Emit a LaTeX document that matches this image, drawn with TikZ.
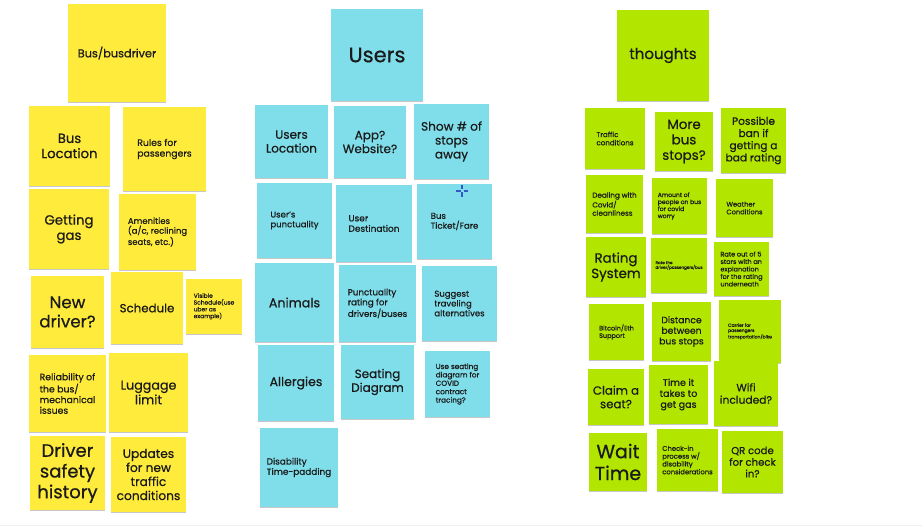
\documentclass[tikz,border=0pt]{standalone}
\usepackage{fontspec}
\setmainfont{Poppins}[FakeBold=0.6]
\usepackage{tikz}
\usetikzlibrary{
    calc,
    shadows
}
\definecolor{notey}{HTML}{FFEB3B}
\definecolor{notec}{HTML}{7FDEEA}
\definecolor{noteg}{HTML}{B2E600}
\definecolor{ink}{HTML}{1A1A1A}
\definecolor{cursorblue}{HTML}{3458C8}
\tikzset{
    fs/.code={\pgfmathsetmacro\stickybls{1.15*#1}\tikzset{font=\fontsize{#1}{\stickybls}\selectfont}},
    wh/.style 2 args={minimum width=#1pt, minimum height=#2pt},
    sticky/.style={inner sep=0pt, align=center, text=ink,
        drop shadow={shadow xshift=0pt, shadow yshift=-1.3pt, opacity=0.22, fill=black}},
    ysticky/.style={sticky, fill=notey},
    csticky/.style={sticky, fill=notec},
    gsticky/.style={sticky, fill=noteg},
}

\begin{document}
\begin{tikzpicture}[x=1pt, y=-1pt]
        \useasboundingbox (0,0) rectangle (922,526);
        \draw[black!6] (0,525) -- (922,525);

        % Bus/busdriver column
        \node[ysticky, wh={98}{98}, fs=11.3] (busdrv) at (117,53) {Bus/busdriver};
        \node[ysticky, wh={81}{80}, fs=13.2] (busloc) at (69.5,146) {Bus\\Location};
        \node[ysticky, wh={83}{84}, fs=9.3, align=left] (rules) at (164.5,149) {Rules for\\passengers};
        \node[ysticky, wh={80}{80}, fs=13.3] (gas) at (69,229) {Getting\\gas};
        \node[ysticky, wh={77}{76}, fs=8.5, align=left] (amen) at (157.5,232) {Amenities\\(a/c, reclining\\seats, etc.)};
        \node[ysticky, wh={73}{72}, fs=16.7] (newdrv) at (67.5,312) {New\\driver?};
        \node[ysticky, wh={72}{72}, fs=11.8] (sched) at (147,308) {Schedule};
        \node[ysticky, wh={56}{55}, fs=5.9, align=left] (vissched) at (214,306.5) {Visible\\Schedule(use\\uber as\\example)};
        \node[ysticky, wh={77}{77}, fs=9.3, align=left] (reliab) at (67.5,393.5) {Reliability of\\the bus/\\mechanical\\issues};
        \node[ysticky, wh={79}{79}, fs=12.7] (lugg) at (148.5,392.5) {Luggage\\limit};
        \node[ysticky, wh={75}{74}, fs=18] (safety) at (67.5,473) {Driver\\safety\\history};
        \node[ysticky, wh={75}{75}, fs=12.2] (updates) at (148.5,474.5) {Updates\\for new\\traffic\\conditions};

        % Users column
        \node[csticky, wh={92}{92}, fs=21] (users) at (377,55) {Users};
        \node[csticky, wh={73}{73}, fs=12] (usrloc) at (291.5,141.5) {Users\\Location};
        \node[csticky, wh={72}{72}, fs=12] (app) at (370,142) {App?\\Website?};
        \node[csticky, wh={75}{75}, fs=12.1] (stops) at (451.5,141.5) {Show \# of\\stops\\away};
        \node[csticky, wh={75}{75}, fs=8.5, align=left] (punct) at (294.5,220.5) {User's\\punctuality};
        \node[csticky, wh={76}{77}, fs=9, align=left] (dest) at (374,223.5) {User\\Destination};
        \node[csticky, wh={75}{75}, fs=8.6, align=left] (ticket) at (454.5,221.5) {Bus\\Ticket/Fare};
        \node[csticky, wh={79}{79}, fs=12.7] (animals) at (294.5,302.5) {Animals};
        \node[csticky, wh={77}{77}, fs=8.7, align=left] (prating) at (377.5,303.5) {Punctuality\\rating for\\drivers/buses};
        \node[csticky, wh={75}{75}, fs=8.5, align=left] (suggest) at (459.5,303.5) {Suggest\\traveling\\alternatives};
        \node[csticky, wh={76}{76}, fs=12.5] (allerg) at (296,383) {Allergies};
        \node[csticky, wh={73}{74}, fs=12] (seating) at (377.5,382) {Seating\\Diagram};
        \node[csticky, wh={65}{66}, fs=7.3, align=left] (tracing) at (457.5,384) {Use seating\\diagram for\\COVID\\contract\\tracing?};
        \node[csticky, wh={78}{79}, fs=8.9, align=left] (disab) at (299,467.5) {Disability\\Time-padding};

        % cursor
        \coordinate (cur) at (462,191);
        \draw[cursorblue, line width=1.3pt] ($(cur)+(-6,0)$) -- ($(cur)+(-1.5,0)$) ($(cur)+(1.5,0)$) -- ($(cur)+(6,0)$)
            ($(cur)+(0,-6)$) -- ($(cur)+(0,-1.5)$) ($(cur)+(0,1.5)$) -- ($(cur)+(0,6)$);

        % thoughts column
        \node[gsticky, wh={92}{91}, fs=15] (thoughts) at (663,55.5) {thoughts};
        \node[gsticky, wh={60}{61}, fs=7.1, align=left] (traffic) at (615,138.5) {Traffic\\conditions};
        \node[gsticky, wh={58}{59}, fs=13.4] (morestops) at (684,141.5) {More\\bus\\stops?};
        \node[gsticky, wh={65}{65}, fs=10.6] (ban) at (753.5,140.5) {Possible\\ban if\\getting a\\bad rating};
        \node[gsticky, wh={57}{58}, fs=7.2, align=left] (covid) at (614.5,204) {Dealing with\\Covid/\\cleanliness};
        \node[gsticky, wh={55}{56}, fs=6.1, align=left] (amount) at (679.5,206) {Amount of\\people on bus\\for covid\\worry};
        \node[gsticky, wh={57}{58}, fs=6.7, align=left] (weather) at (744.5,208) {Weather\\Conditions};
        \node[gsticky, wh={60}{60}, fs=13.4] (rating) at (616,267) {Rating\\System};
        \node[gsticky, wh={56}{55}, fs=4.1, align=left] (ratethe) at (679,265.5) {Rate the\\driver/passengers/bus};
        \node[gsticky, wh={55}{54}, fs=6.5, align=left] (rate5) at (741.5,269) {Rate out of 5\\stars with an\\explanation\\for the rating\\underneath};
        \node[gsticky, wh={55}{56}, fs=6.5, align=left] (bitcoin) at (616.5,332) {Bitcoin/Eth\\Support};
        \node[gsticky, wh={59}{59}, fs=9.2] (dist) at (681.5,331.5) {Distance\\between\\bus stops};
        \node[gsticky, wh={62}{63}, fs=4.5, align=left] (carrier) at (750,331.5) {Carrier for\\passengers\\transportation/bike};
        \node[gsticky, wh={56}{56}, fs=11.8] (claim) at (616,397) {Claim a\\seat?};
        \node[gsticky, wh={59}{59}, fs=9.5] (gastime) at (678.5,394.5) {Time it\\takes to\\get gas};
        \node[gsticky, wh={64}{65}, fs=10.7] (wifi) at (746,393.5) {Wifi\\included?};
        \node[gsticky, wh={58}{58}, fs=19] (wait) at (618,462) {Wait\\Time};
        \node[gsticky, wh={61}{62}, fs=6.8, align=left] (checkin) at (687.5,460) {Check-in\\process w/\\disability\\considerations};
        \node[gsticky, wh={61}{62}, fs=10.1] (qr) at (752.5,462) {QR code\\for check\\in?};
    \end{tikzpicture}
\end{document}
